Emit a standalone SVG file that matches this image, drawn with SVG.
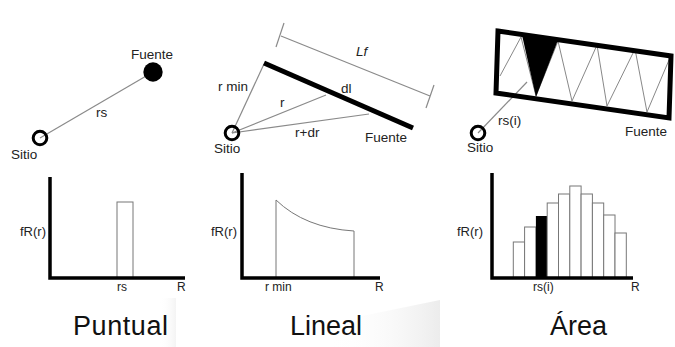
<svg xmlns="http://www.w3.org/2000/svg" width="675" height="347" viewBox="0 0 675 347">
<defs>
<style>
.t{font-family:"Liberation Sans",Arial,sans-serif;fill:#222;font-size:13.5px}
.s{font-size:12px}
.f{font-size:13px}
.title{font-family:"Liberation Sans",Arial,sans-serif;fill:#111;font-size:27px}
.thin{stroke:#8a8a8a;stroke-width:1.2;fill:none}
.axis{stroke:#000;stroke-width:3.5;fill:none}
.site{fill:none;stroke:#000;stroke-width:3}
.bar{fill:#fff;stroke:#777;stroke-width:1}
</style>
<linearGradient id="g1" x1="0" y1="0" x2="1" y2="0">
<stop offset="0" stop-color="#fff" stop-opacity="0"/>
<stop offset="1" stop-color="#d9d9d9"/>
</linearGradient>
</defs>
<rect width="675" height="347" fill="#fff"/>
<polygon points="327,347 362,316 440,300 440,347" fill="url(#g1)" opacity="0.5"/>
<rect x="160" y="298" width="16" height="49" fill="url(#g1)" opacity="0.3"/>

<g id="connectors">
<line class="thin" x1="40" y1="138" x2="153" y2="72"/>
<line class="thin" x1="232" y1="133" x2="264" y2="64"/>
<line class="thin" x1="232" y1="133" x2="326" y2="95"/>
<line class="thin" x1="232" y1="133" x2="369" y2="114"/>
<line class="thin" x1="478" y1="133" x2="527" y2="82"/>
</g>

<g id="puntual">
<g id="p-fuente"><circle cx="153" cy="72" r="9.7" fill="#000"/><text class="t" x="131" y="59">Fuente</text></g>
<g id="p-sitio"><circle class="site" cx="40" cy="138" r="6.8"/><text class="t" x="11" y="159">Sitio</text></g>
<text class="t" x="96" y="117">rs</text>
<g id="p-chart">
<rect class="bar" x="117" y="202" width="16" height="76"/>
<polyline class="axis" points="50,177 50,278 185,278"/>
<text class="t f" x="20" y="236">fR(r)</text>
<text class="t s" x="117" y="291">rs</text>
<text class="t s" x="177" y="291">R</text>
</g>
<text class="title" x="73" y="335" textLength="95">Puntual</text>
</g>

<g id="lineal">
<g id="l-dim">
<line class="thin" x1="281" y1="36" x2="430" y2="96"/>
<line class="thin" x1="284" y1="23" x2="276" y2="47"/>
<line class="thin" x1="434" y1="85" x2="426" y2="108"/>
<text class="t" x="356" y="56" font-style="italic">Lf</text>
</g>
<g id="l-fuente"><line x1="264" y1="63" x2="413" y2="128" stroke="#000" stroke-width="5"/><text class="t" x="365" y="142">Fuente</text></g>
<g id="l-sitio"><circle class="site" cx="232" cy="133" r="6.8"/><text class="t" x="214" y="153">Sitio</text></g>
<text class="t" x="218" y="91">r min</text>
<text class="t" x="280" y="107">r</text>
<text class="t" x="341" y="93">dl</text>
<text class="t" x="295" y="137">r+dr</text>
<g id="l-chart">
<path d="M276,278 V200 Q305,228 354,231 V278" stroke="#777" stroke-width="1" fill="none"/>
<polyline class="axis" points="242,173 242,278 380,278"/>
<text class="t f" x="211" y="236">fR(r)</text>
<text class="t s" x="265" y="291">r min</text>
<text class="t s" x="375" y="291">R</text>
</g>
<text class="title" x="290" y="335">Lineal</text>
</g>

<g id="area">
<g id="a-fuente">
<polyline points="500,76 521,37 536,96 558,41 572,101 597,45 607,106 635,49 647,112 669,60" stroke="#888" stroke-width="1" fill="none"/>
<polygon points="522,35 558,40 536,97" fill="#000"/>
<polygon points="498,31 671,56 669,118 496,93" fill="none" stroke="#000" stroke-width="5" stroke-linejoin="miter"/>
<text class="t" x="625" y="136">Fuente</text>
</g>
<g id="a-sitio"><circle class="site" cx="478" cy="133" r="6.8"/><text class="t" x="467" y="152">Sitio</text></g>
<text class="t" x="498" y="125">rs(i)</text>
<g id="a-chart">
<rect class="bar" x="513.3" y="242" width="11.3" height="36"/>
<rect class="bar" x="524.6" y="227" width="11.3" height="51"/>
<rect x="535.9" y="216" width="11.3" height="62" fill="#000"/>
<rect class="bar" x="547.2" y="203" width="11.3" height="75"/>
<rect class="bar" x="558.5" y="194" width="11.3" height="84"/>
<rect class="bar" x="569.8" y="186" width="11.3" height="92"/>
<rect class="bar" x="581.1" y="194" width="11.3" height="84"/>
<rect class="bar" x="592.4" y="203" width="11.3" height="75"/>
<rect class="bar" x="603.7" y="215" width="11.3" height="63"/>
<rect class="bar" x="615" y="233" width="11.3" height="45"/>
<polyline class="axis" points="492,173 492,278 633,278"/>
<text class="t f" x="457" y="236">fR(r)</text>
<text class="t s" x="533" y="291">rs(i)</text>
<text class="t s" x="631" y="291">R</text>
</g>
<text class="title" x="550" y="335">Área</text>
</g>
</svg>
